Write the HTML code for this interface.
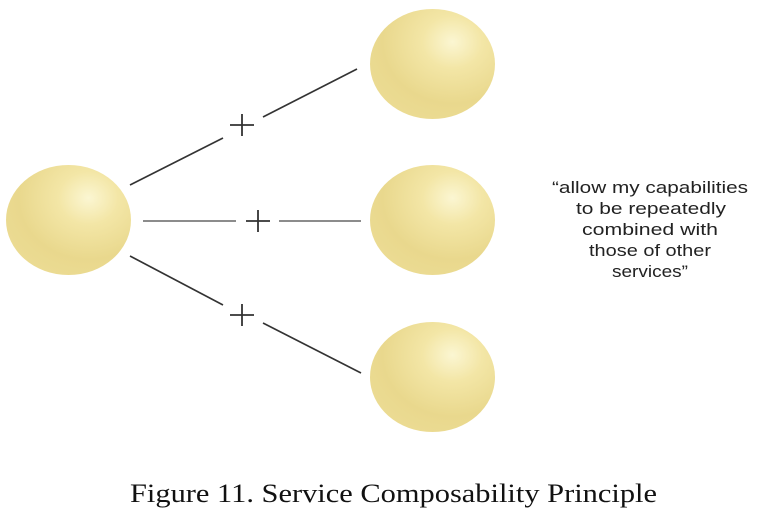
<!DOCTYPE html>
<html><head><meta charset="utf-8"><style>
html,body{margin:0;padding:0;background:#fff;width:757px;height:512px;overflow:hidden}
</style></head><body>
<svg width="757" height="512" viewBox="0 0 757 512" xmlns="http://www.w3.org/2000/svg">
<defs>
<radialGradient id="g" cx="0.66" cy="0.3" r="0.8">
<stop offset="0" stop-color="#fbf6d2"/>
<stop offset="0.3" stop-color="#f3e6a6"/>
<stop offset="0.7" stop-color="#e9d88d"/>
<stop offset="1" stop-color="#ecdc94"/>
</radialGradient>
</defs>
<ellipse cx="68.5" cy="220" rx="62.5" ry="55" fill="url(#g)"/>
<ellipse cx="432.5" cy="64" rx="62.5" ry="55" fill="url(#g)"/>
<ellipse cx="432.5" cy="220" rx="62.5" ry="55" fill="url(#g)"/>
<ellipse cx="432.5" cy="377" rx="62.5" ry="55" fill="url(#g)"/>
<g stroke="#333" stroke-width="1.6" fill="none">
<line x1="130" y1="185" x2="223" y2="138"/>
<line x1="263" y1="117" x2="357" y2="69"/>
<line x1="143" y1="221" x2="236" y2="221" stroke="#666"/>
<line x1="279" y1="221" x2="361" y2="221" stroke="#666"/>
<line x1="130" y1="256" x2="223" y2="305"/>
<line x1="263" y1="323" x2="361" y2="373"/>
<path d="M230 125h24M242 114v22" stroke-width="1.8"/>
<path d="M246 221h24M258 210v22" stroke-width="1.8"/>
<path d="M230 315h24M242 304v22" stroke-width="1.8"/>
</g>
<g font-family="'Liberation Sans',sans-serif" font-size="16.5" fill="#222" text-anchor="middle">
<text x="650" y="193" textLength="196" lengthAdjust="spacingAndGlyphs">“allow my capabilities</text>
<text x="651" y="214" textLength="150" lengthAdjust="spacingAndGlyphs">to be repeatedly</text>
<text x="650" y="235" textLength="136" lengthAdjust="spacingAndGlyphs">combined with</text>
<text x="650" y="256" textLength="122" lengthAdjust="spacingAndGlyphs">those of other</text>
<text x="650" y="277" textLength="76" lengthAdjust="spacingAndGlyphs">services”</text>
</g>
<text x="130" y="502" font-family="'Liberation Serif',serif" font-size="26" fill="#111" textLength="527" lengthAdjust="spacingAndGlyphs">Figure 11. Service Composability Principle</text>
</svg>
</body></html>
